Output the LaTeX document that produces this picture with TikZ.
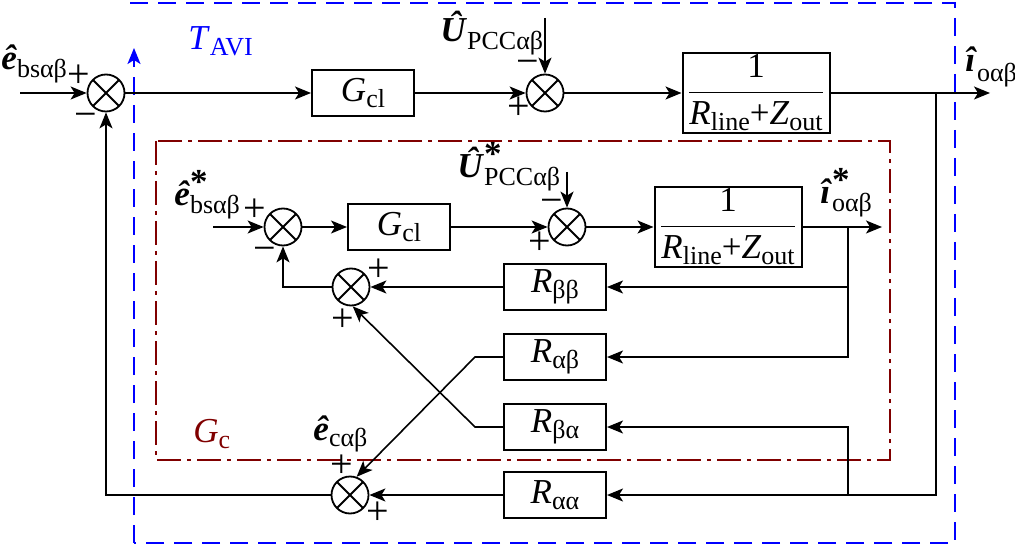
\documentclass[tikz,border=0pt]{standalone}
\usepackage{amsmath}
\usepackage{fontspec}
\setmainfont{Liberation Serif}
\usepackage{tikz}
\usetikzlibrary{positioning,arrows.meta}

\definecolor{dkred}{RGB}{128,0,0}
\newcommand{\lo}[2][3pt]{\raisebox{-#1}{\fontsize{13}{14}\selectfont #2}}
\newcommand{\bi}[1]{\textbf{\textit{#1}}}
\newcommand{\stlo}[2][4pt]{\rlap{\raisebox{6pt}{\textbf{*}}}\lo[#1]{#2}}

\begin{document}
\begin{tikzpicture}
  [x=0.5pt,y=-0.5pt,
   every node/.style={font=\fontsize{17.5}{20}\selectfont},
   blk/.style={draw,line width=1pt,minimum width=51pt,minimum height=23pt,inner sep=1pt},
   fracblk/.style={blk,minimum width=73.5pt,minimum height=38.5pt},
   sumj/.style={circle,draw,line width=0.9pt,minimum size=18.5pt,inner sep=0pt,
     path picture={\draw[line width=0.9pt]
       (path picture bounding box.north west)--(path picture bounding box.south east)
       (path picture bounding box.north east)--(path picture bounding box.south west);}},
   sig/.style={inner sep=0pt,font=\fontsize{20}{20}\selectfont},
   lbl/.style={inner sep=0pt,anchor=base west},
   conn/.style={line width=0.8pt,-{Stealth[length=8pt,width=6.5pt,inset=2pt]}}]
  \useasboundingbox (0,0) rectangle (1015,550);

  % outer loop
  \node[sumj] (s1) at (106,93) {};
  \node[blk] (gcl1) at (363,93) {\textit{G}\lo{cl}};
  \node[sumj] (s2) at (545,93) {};
  \node[fracblk] (frac1) at (756,93) {$\dfrac{\text{1}}{\text{\textit{R}\lo{line}+\textit{Z}\lo{out}}}$};
  \coordinate (in1) at (20,93);
  \coordinate (out1) at (990,93);
  \coordinate (u1) at (545,18);
  \coordinate (br1) at (936,93);

  % inner model G_c
  \node[sumj] (s3) at (283,227) {};
  \node[blk] (gcl2) at (399,227) {\textit{G}\lo{cl}};
  \node[sumj] (s4) at (567,227) {};
  \node[fracblk] (frac2) at (728,227) {$\dfrac{\text{1}}{\text{\textit{R}\lo{line}+\textit{Z}\lo{out}}}$};
  \coordinate (in2) at (213,227);
  \coordinate (out2) at (882,227);
  \coordinate (u2) at (567,172);
  \coordinate (br2) at (848,227);

  % cross-coupling blocks
  \node[blk] (rbb) at (555,287) {\textit{R}\lo{ββ}};
  \node[blk] (rab) at (555,357) {\textit{R}\lo{αβ}};
  \node[blk] (rba) at (555,427) {\textit{R}\lo{βα}};
  \node[blk] (raa) at (555,495) {\textit{R}\lo{αα}};
  \node[sumj] (s5) at (351,287) {};
  \node[sumj] (s6) at (350,495) {};
  \coordinate (k1) at (475,357);
  \coordinate (k2) at (475,427);
  \coordinate (br3) at (848,495);

  % frames
  \draw[blue,line width=1pt,dash pattern=on 9pt off 5pt] (130,3) -- (955,3) -- (955,543) -- (134,543);
  \draw[blue,line width=1pt,dash pattern=on 9pt off 5pt,-{Stealth[length=8pt,width=6.5pt,inset=2pt]}] (134,543) -- (134,48);
  \draw[dkred,line width=1pt,dash pattern=on 12pt off 3pt on 2pt off 3pt] (156,141) rectangle (890,460);

  % signals
  \draw[conn] (in1) -- (s1);
  \draw[conn] (s1) -- (gcl1);
  \draw[conn] (gcl1) -- (s2);
  \draw[conn] (u1) -- (s2);
  \draw[conn] (s2) -- (frac1);
  \draw[conn] (frac1) -- (out1);
  \draw[conn] (in2) -- (s3);
  \draw[conn] (s3) -- (gcl2);
  \draw[conn] (gcl2) -- (s4);
  \draw[conn] (u2) -- (s4);
  \draw[conn] (s4) -- (frac2);
  \draw[conn] (frac2) -- (out2);
  \draw[conn] (br2) |- (rbb);
  \draw[conn] (br2) |- (rab);
  \draw[conn] (br1) |- (raa);
  \draw[conn] (br3) |- (rba);
  \draw[conn] (rbb) -- (s5);
  \draw[conn] (s5) -| (s3);
  \draw[conn] (rab.west) -- (k1) -- (s6.70);
  \draw[conn] (rba.west) -- (k2) -- (s5.-85);
  \draw[conn] (raa) -- (s6);
  \draw[conn] (s6) -| (s1);

  % signs
  \node[sig] (p1) at (79,76) {+};
  \node[sig] (m1) at (86,120) {−};
  \node[sig] (m2) at (528,67) {−};
  \node[sig] (p2) at (519,108) {+};
  \node[sig] (p3) at (255,210) {+};
  \node[sig] (m3) at (265,254) {−};
  \node[sig] (m4) at (552,206) {−};
  \node[sig] (p4) at (540,243) {+};
  \node[sig] (p5) at (379,270) {+};
  \node[sig] (p5b) at (343,320) {+};
  \node[sig] (p6) at (342,466) {+};
  \node[sig] (p6b) at (378,513) {+};

  % labels
  \node[lbl] (ebs) at (1,70) {\bi{ê}\lo[4pt]{bsαβ}};
  \node[lbl,text=blue] (tavi) at (188,50) {\textit{T}\lo[3pt]{AVI}};
  \node[lbl] (upcc) at (440,42) {\bi{Û}\lo[4pt]{PCCαβ}};
  \node[lbl] (io) at (965,72) {\bi{î}\lo[5pt]{oαβ}};
  \node[lbl] (ebsr) at (174,206) {\bi{ê}\stlo[4pt]{bsαβ}};
  \node[lbl] (upccr) at (457,178) {\bi{Û}\stlo[4pt]{PCCαβ}};
  \node[lbl] (ior) at (820,204) {\bi{î}\stlo[4pt]{oαβ}};
  \node[lbl] (eca) at (313,440) {\bi{ê}\lo[3pt]{cαβ}};
  \node[lbl,text=dkred] (gc) at (193,442) {\textit{G}\lo[3pt]{c}};
\end{tikzpicture}
\end{document}
